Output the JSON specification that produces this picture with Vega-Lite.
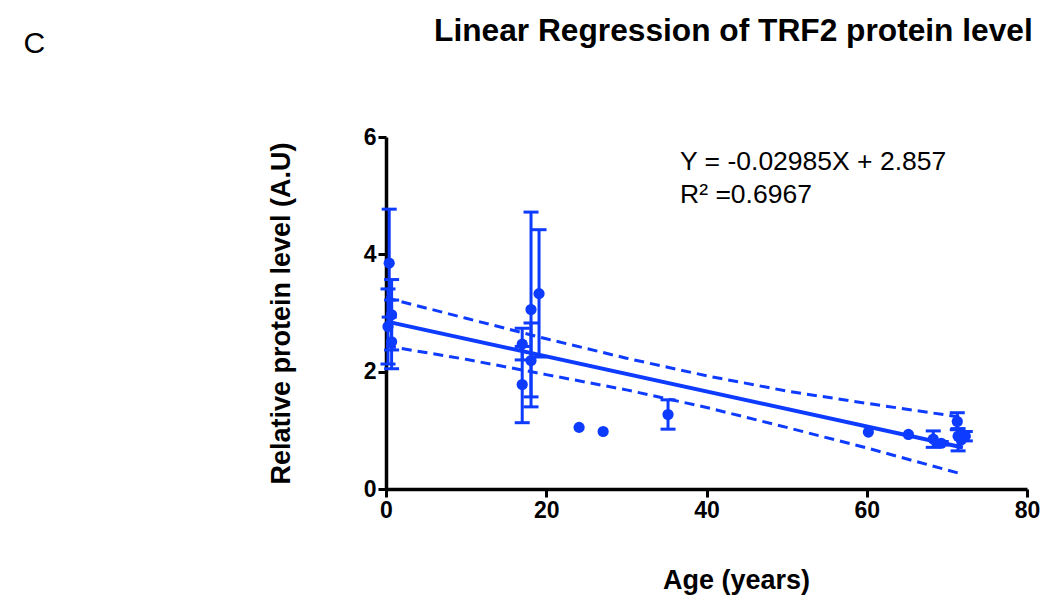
{
  "$schema": "https://vega.github.io/schema/vega-lite/v6.json",
  "width": 641,
  "height": 352,
  "autosize": {"type": "none"},
  "padding": {"left": 386, "top": 137, "right": 15, "bottom": 113},
  "background": "white",
  "config": {
    "view": {"stroke": null},
    "axis": {
      "grid": false,
      "domainColor": "black",
      "domainWidth": 3.5,
      "tickColor": "black",
      "tickWidth": 3,
      "tickSize": 8,
      "labelFlush": false,
      "labelFont": "Liberation Sans",
      "labelFontSize": 23,
      "labelFontWeight": "bold",
      "labelColor": "black",
      "titleFont": "Liberation Sans",
      "titleFontSize": 27,
      "titleFontWeight": "bold",
      "titleColor": "black"
    }
  },
  "datasets": {
    "points": [
      {"age": 0.4, "level": 3.85, "lo": 2.93, "hi": 4.77},
      {"age": 0.7, "level": 2.97, "lo": 2.37, "hi": 3.57},
      {"age": 0.25, "level": 2.77, "lo": 2.13, "hi": 3.41},
      {"age": 0.7, "level": 2.51, "lo": 2.05, "hi": 3.22},
      {"age": 17.0, "level": 2.47, "lo": 2.20, "hi": 2.74},
      {"age": 17.0, "level": 1.78, "lo": 1.13, "hi": 2.43},
      {"age": 18.1, "level": 3.06, "lo": 1.40, "hi": 4.72},
      {"age": 18.1, "level": 2.19, "lo": 1.57, "hi": 2.83},
      {"age": 19.1, "level": 3.33, "lo": 2.25, "hi": 4.42},
      {"age": 24.1, "level": 1.05, "lo": null, "hi": null},
      {"age": 27.1, "level": 0.98, "lo": null, "hi": null},
      {"age": 35.2, "level": 1.27, "lo": 1.02, "hi": 1.52},
      {"age": 60.2, "level": 0.97, "lo": null, "hi": null},
      {"age": 65.2, "level": 0.93, "lo": null, "hi": null},
      {"age": 68.3, "level": 0.85, "lo": 0.71, "hi": 0.99},
      {"age": 69.3, "level": 0.78, "lo": 0.75, "hi": 0.81},
      {"age": 71.3, "level": 1.15, "lo": 1.01, "hi": 1.30},
      {"age": 71.4, "level": 0.90, "lo": 0.65, "hi": 1.03},
      {"age": 72.3, "level": 0.90, "lo": 0.82, "hi": 0.98},
      {"age": 71.8, "level": 0.84, "lo": null, "hi": null}
    ],
    "fit": [
      {"age": 0, "level": 2.857},
      {"age": 72, "level": 0.708}
    ],
    "band": [
      {"bound": "upper", "age": 0, "level": 3.26},
      {"bound": "upper", "age": 10, "level": 2.91},
      {"bound": "upper", "age": 20, "level": 2.56},
      {"bound": "upper", "age": 30, "level": 2.23},
      {"bound": "upper", "age": 40, "level": 1.93},
      {"bound": "upper", "age": 50, "level": 1.67},
      {"bound": "upper", "age": 60, "level": 1.46},
      {"bound": "upper", "age": 72, "level": 1.22},
      {"bound": "lower", "age": 0, "level": 2.44},
      {"bound": "lower", "age": 10, "level": 2.21},
      {"bound": "lower", "age": 20, "level": 1.95},
      {"bound": "lower", "age": 30, "level": 1.69},
      {"bound": "lower", "age": 40, "level": 1.39},
      {"bound": "lower", "age": 50, "level": 1.05},
      {"bound": "lower", "age": 60, "level": 0.70},
      {"bound": "lower", "age": 72, "level": 0.25}
    ],
    "equation": [
      {"label": "Y = -0.02985X + 2.857", "age": 36.7, "level": 5.43},
      {"label": "R² =0.6967", "age": 36.7, "level": 4.87}
    ],
    "panel": [
      {"label": "C", "age": -43.9, "level": 7.44}
    ],
    "heading": [
      {"label": "Linear Regression of TRF2 protein level", "age": 6.0, "level": 7.63}
    ]
  },
  "encoding": {
    "x": {
      "field": "age",
      "type": "quantitative",
      "scale": {"domain": [0, 80], "nice": false, "zero": false},
      "axis": {
        "values": [0, 20, 40, 60, 80],
        "title": "Age (years)",
        "titleX": 350,
        "titleY": 91,
        "titleAlign": "center",
        "titleBaseline": "middle",
        "labelPadding": 2
      }
    },
    "y": {
      "field": "level",
      "type": "quantitative",
      "scale": {"domain": [0, 6], "nice": false},
      "axis": {
        "values": [0, 2, 4, 6],
        "title": "Relative protein level (A.U)",
        "titleX": -105,
        "titleY": 176,
        "titleAlign": "center",
        "titleBaseline": "middle",
        "titleAngle": -90,
        "labelPadding": 2
      }
    }
  },
  "layer": [
    {
      "data": {"name": "band"},
      "mark": {"type": "line", "color": "#0d3bff", "strokeWidth": 3, "strokeDash": [10, 6]},
      "encoding": {"detail": {"field": "bound"}}
    },
    {
      "data": {"name": "fit"},
      "mark": {"type": "line", "color": "#0d3bff", "strokeWidth": 4},
      "encoding": {}
    },
    {
      "data": {"name": "points"},
      "mark": {"type": "rule", "color": "#0d3bff", "strokeWidth": 3, "opacity": 1},
      "encoding": {"y": {"field": "lo", "type": "quantitative"}, "y2": {"field": "hi"}}
    },
    {
      "data": {"name": "points"},
      "mark": {"type": "tick", "color": "#0d3bff", "orient": "horizontal", "size": 15, "thickness": 3, "opacity": 1},
      "encoding": {"y": {"field": "lo", "type": "quantitative"}}
    },
    {
      "data": {"name": "points"},
      "mark": {"type": "tick", "color": "#0d3bff", "orient": "horizontal", "size": 15, "thickness": 3, "opacity": 1},
      "encoding": {"y": {"field": "hi", "type": "quantitative"}}
    },
    {
      "data": {"name": "points"},
      "mark": {"type": "circle", "color": "#0d3bff", "size": 125, "opacity": 1}
    },
    {
      "data": {"name": "equation"},
      "mark": {"type": "text", "align": "left", "baseline": "alphabetic", "font": "Liberation Sans", "fontSize": 26.5, "color": "black"},
      "encoding": {"text": {"field": "label"}}
    },
    {
      "data": {"name": "panel"},
      "mark": {"type": "text", "align": "center", "baseline": "alphabetic", "font": "Liberation Sans", "fontSize": 30, "color": "black"},
      "encoding": {"text": {"field": "label"}}
    },
    {
      "data": {"name": "heading"},
      "mark": {"type": "text", "align": "left", "baseline": "alphabetic", "font": "Liberation Sans", "fontSize": 31.7, "fontWeight": "bold", "color": "black"},
      "encoding": {"text": {"field": "label"}}
    }
  ]
}
